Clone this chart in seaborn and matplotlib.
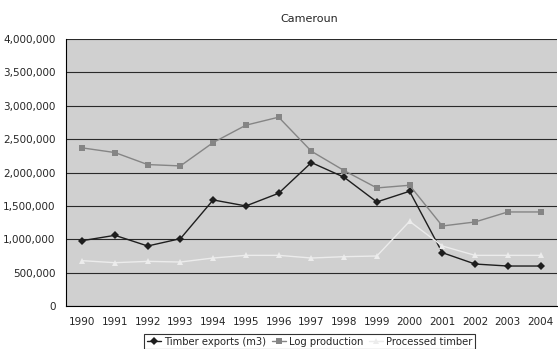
import pandas as pd
import numpy as np
import matplotlib.pyplot as plt
import seaborn as sns
from matplotlib.ticker import FuncFormatter, FixedLocator

# data
years = ["1990", "1991", "1992", "1993", "1994", "1995", "1996", "1997",
         "1998", "1999", "2000", "2001", "2002", "2003", "2004"]
timber_exports = [980000, 1060000, 900000, 1010000, 1590000, 1500000, 1690000, 2150000,
                  1930000, 1560000, 1720000, 800000, 630000, 600000, 600000]
log_production = [2370000, 2300000, 2120000, 2100000, 2450000, 2710000, 2830000, 2320000,
                  2030000, 1770000, 1810000, 1200000, 1260000, 1410000, 1410000]
processed_timber = [680000, 650000, 670000, 660000, 720000, 760000, 760000, 720000,
                    740000, 750000, 1270000, 900000, 760000, 760000, 760000]

series_names = ["Timber exports (m3)", "Log production", "Processed timber"]

df = pd.DataFrame({
    "pos": list(range(len(years))) * 3,
    "value": timber_exports + log_production + processed_timber,
    "series": sum([[n] * len(years) for n in series_names], []),
})

sns.set_style("white")
plt.rcParams['font.family'] = ['DejaVu Sans']

fig = plt.figure(figsize=(5.58, 3.49), dpi=100)
ax = fig.add_axes([0.118, 0.123, 0.88, 0.765])
ax.set_facecolor("#d0d0d0")

palette = {"Timber exports (m3)": "#1e1e1e", "Log production": "#858585",
           "Processed timber": "#ececec"}
markers = {"Timber exports (m3)": "D", "Log production": "s", "Processed timber": "^"}
sns.lineplot(data=df, x="pos", y="value", hue="series", style="series",
             palette=palette, markers=markers, dashes=False, markersize=4,
             markeredgewidth=0, linewidth=1, ax=ax)

ax.set_xlim(-0.5, len(years) - 0.5)
ax.set_ylim(0, 4000000)
ax.set_yticks(np.arange(0, 4000001, 500000))
ax.yaxis.set_major_formatter(FuncFormatter(lambda v, p: f"{int(v):,}"))
ax.grid(axis="y", color="#2a2a2a", linewidth=0.8)
ax.set_axisbelow(True)

ax.set_xticks(range(len(years)))
ax.set_xticklabels(years)
ax.xaxis.set_minor_locator(FixedLocator(np.arange(-0.5, len(years), 1)))
ax.tick_params(axis="x", which="major", length=0, labelsize=7.5, pad=8)
ax.tick_params(axis="x", which="minor", length=4, width=0.8, color="black", direction="out")
ax.tick_params(axis="y", length=4, width=0.8, color="black", direction="out", labelsize=7.5)
ax.set_xlabel("")
ax.set_ylabel("")

for s in ["top", "right"]:
    ax.spines[s].set_visible(False)
for s in ["left", "bottom"]:
    ax.spines[s].set_color("black")
    ax.spines[s].set_linewidth(0.8)

fig.text(0.555, 0.945, "Cameroun", ha="center", va="center", fontsize=8)

handles, labels = ax.get_legend_handles_labels()
ax.legend(handles, labels, loc="lower center", bbox_to_anchor=(0.555, -0.015),
          bbox_transform=fig.transFigure, ncol=3, fontsize=7.2, frameon=True,
          fancybox=False, edgecolor="black", borderpad=0.25, handlelength=1.4,
          handletextpad=0.3, columnspacing=0.6)
ax.get_legend().get_frame().set_linewidth(0.8)

plt.savefig("out.png", dpi=100)
